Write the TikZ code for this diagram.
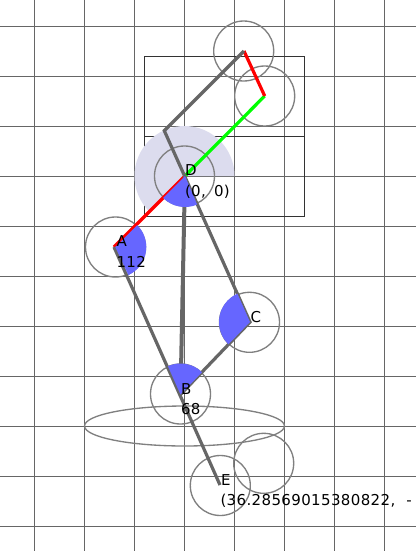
\documentclass[tikz,border=0pt]{standalone}
\usepackage{fontspec}
\setmainfont[LetterSpace=2.5]{DejaVu Sans}
\definecolor{gridc}{HTML}{666666}
\definecolor{armc}{HTML}{666666}
\definecolor{circc}{HTML}{808080}
\definecolor{sectc}{HTML}{6666FF}
\definecolor{palec}{HTML}{DCDCEE}
\definecolor{boxc}{HTML}{333333}
\tikzset{
  gridline/.style={draw=gridc,line width=0.9pt},
  framebox/.style={draw=boxc,line width=0.75pt},
  joint/.style={draw=circc,line width=1pt},
  arm/.style={draw=armc,line width=2.4pt},
  redarm/.style={draw=red,line width=2.4pt},
  greenarm/.style={draw=green,line width=2.4pt},
  sector/.style={fill=sectc},
  lbl/.style={anchor=base west,inner sep=0pt,outer sep=0pt,font=\fontsize{11.25pt}{13pt}\selectfont,text=black},
  upaxis/.style={x=0.75pt,y=0.75pt},
}
\begin{document}
\begin{tikzpicture}[x=0.75pt,y=-0.75pt]
\useasboundingbox (0,0) rectangle (416,551);
\clip (0,0) rectangle (416,551);
\fill[white] (0,0) rectangle (416,551);
% named points
\coordinate (A) at (114,247);
\coordinate (As) at (115.3,247);
\coordinate (B) at (180.5,394.5);
\coordinate (C) at (250,322);
\coordinate (D) at (185,176);
\coordinate (E) at (220,485);
\coordinate (F) at (264.7,96);
\coordinate (G) at (244,51);
\coordinate (H) at (164.3,130.7);
\coordinate (P) at (184.5,176);
% grid
\foreach \x in {34,84,...,384} \draw[gridline] (\x+0.3,0) -- (\x+0.3,551);
\foreach \y in {26,76,...,526} \draw[gridline] (0,\y+0.5) -- (416,\y+0.5);
% frames
\draw[framebox] (144.5,56.5) rectangle (304.5,136.5);
\draw[framebox] (144.5,136.5) rectangle (304.5,216.5);
% pale sector
\begin{scope}[shift={(P)},upaxis]
\fill[palec] (0,0) -- (0:50) arc[start angle=0,end angle=225,radius=50] -- cycle;
\end{scope}
% circles
\draw[joint] (115.5,247) circle[radius=30];
\draw[joint] (180.5,394) circle[radius=30];
\draw[joint] (249.5,322.3) circle[radius=30];
\draw[joint] (184.5,176) circle[radius=30];
\draw[joint] (220.3,485.5) circle[radius=30];
\draw[joint] (263.7,463.3) circle[radius=30];
\draw[joint] (264.7,96) circle[radius=30];
\draw[joint] (243.7,51) circle[radius=30];
\draw[joint] (184.5,426) ellipse[x radius=100,y radius=20];
% arms
\draw[redarm] (D) -- (A);
\draw[greenarm] (D) -- (F);
\draw[redarm] (F) -- (G);
\draw[arm] (G) -- (H) -- (C) -- (B);
\draw[arm] (A) -- (E);
\draw[arm,line width=3pt] (D) -- (B);
% angle sectors
\begin{scope}[shift={(As)},upaxis]
\fill[sector] (0,0) -- (45:31) arc[start angle=45,end angle=-65,radius=31] -- cycle;
\end{scope}
\begin{scope}[shift={(D)},upaxis]
\fill[sector] (0,0) -- (225:31) arc[start angle=225,end angle=293,radius=31] -- cycle;
\end{scope}
\begin{scope}[shift={(B)},upaxis]
\fill[sector] (0,0) -- (114:31) arc[start angle=114,end angle=46,radius=31] -- cycle;
\end{scope}
\begin{scope}[shift={(C)},upaxis]
\fill[sector] (0,0) -- (114:31) arc[start angle=114,end angle=226,radius=31] -- cycle;
\end{scope}
% labels
\node[lbl] (la) at (116.5,246) {A};
\node[lbl] (l112) at (116.5,267) {112};
\node[lbl] (lb) at (181,394) {B};
\node[lbl] (l68) at (181,414) {68};
\node[lbl] (lc) at (250.5,322) {C};
\node[lbl] (ld) at (185,175) {D};
\node[lbl] (l00) at (185,196) {(0,\hspace{0.2em} 0)};
\node[lbl] (le) at (221,485) {E};
\node[lbl] (lpos) at (220.5,505.5) {(36.28569015380822,\hspace{0.39em} -};
\end{tikzpicture}
\end{document}
